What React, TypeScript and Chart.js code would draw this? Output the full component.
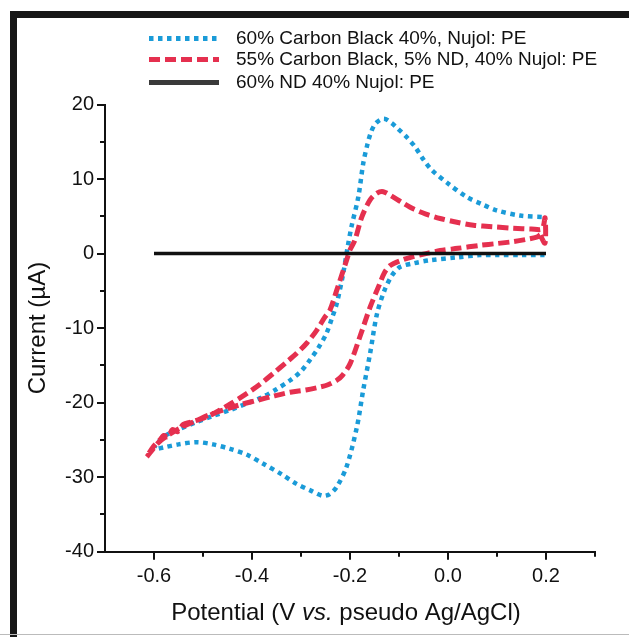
import React, { useEffect, useRef } from "react";
import { Chart, registerables } from "chart.js";

Chart.register(...registerables);

// ---------- data ----------
const seriesLabels = [
  "60% Carbon Black 40%, Nujol: PE",
  "55% Carbon Black, 5% ND, 40% Nujol: PE",
  "60% ND 40% Nujol: PE",
];

// 60% Carbon Black (reduction sweep from +0.2 V, then oxidation sweep back)
const blueX = [
  0.197, 0.15, 0.1, 0.065, 0.02, -0.037, -0.07, -0.098, -0.115, -0.13, -0.145, -0.159, -0.173, -0.186,
  -0.207, -0.227, -0.242, -0.256, -0.28, -0.309, -0.34, -0.377, -0.41, -0.445, -0.48, -0.513, -0.55,
  -0.58, -0.6,
  -0.581, -0.55, -0.513, -0.48, -0.445, -0.41, -0.377, -0.35, -0.322, -0.3, -0.282, -0.265, -0.248,
  -0.237, -0.227, -0.214, -0.205, -0.197, -0.183, -0.173, -0.165, -0.157, -0.147, -0.131, -0.115,
  -0.103, -0.084, -0.067, -0.05, -0.033, 0.0, 0.038, 0.07, 0.099, 0.147, 0.197,
];
const blueY = [
  -0.2, -0.2, -0.2, -0.2, -0.5, -0.9, -1.3, -1.8, -3.0, -5.0, -8.1, -13.4, -18.3, -23.3,
  -28.6, -31.3, -32.3, -32.5, -31.8, -30.9, -29.6, -28.2, -27.0, -26.2, -25.6, -25.3, -25.6,
  -26.0, -26.2,
  -24.6, -23.6, -22.6, -21.8, -21.0, -20.1, -19.2, -18.2, -17.0, -15.8, -14.3, -12.7, -10.7,
  -8.7, -6.7, -2.7, 0.8, 3.6, 7.6, 12.1, 14.5, 16.3, 17.5, 18.1, 17.5,
  16.8, 15.6, 14.3, 12.6, 11.2, 9.4, 7.6, 6.6, 5.8, 5.1, 4.9,
];

// 55% Carbon Black, 5% ND
const redX = [
  0.188, 0.181, 0.16, 0.133, 0.1, 0.065, 0.02, -0.016, -0.045, -0.071, -0.095, -0.118, -0.13, -0.139,
  -0.159, -0.18, -0.2, -0.215, -0.227, -0.245, -0.261, -0.29, -0.322, -0.355, -0.39, -0.425, -0.459,
  -0.49, -0.513, -0.54, -0.567, -0.59, -0.615,
  -0.6, -0.588, -0.58, -0.572, -0.562, -0.552, -0.54, -0.525, -0.505, -0.479, -0.445, -0.411, -0.385,
  -0.357, -0.33, -0.309, -0.288, -0.268, -0.252, -0.241, -0.227, -0.207, -0.2, -0.19, -0.176, -0.159,
  -0.145, -0.132, -0.115, -0.095, -0.071, -0.045, -0.016, 0.018, 0.052, 0.09, 0.133, 0.17, 0.192,
  0.198, 0.198, 0.188,
];
const redY = [
  2.5, 2.2, 1.9, 1.6, 1.35, 1.1, 0.7, 0.4, 0.0, -0.4, -0.9, -1.6, -2.6, -4.0,
  -7.2, -11.2, -14.8, -16.3, -17.0, -17.6, -17.9, -18.3, -18.6, -19.1, -19.7, -20.3, -21.0,
  -21.7, -22.4, -23.2, -24.2, -25.3, -27.3,
  -25.8, -25.0, -24.4, -24.6, -23.6, -23.9, -22.9, -22.6, -22.2, -21.5, -20.2, -18.8, -17.6,
  -16.1, -14.6, -13.4, -12.0, -10.3, -8.6, -7.6, -4.9, -0.9, 0.5, 1.8, 4.9, 7.2,
  8.1, 8.3, 7.7, 6.9, 6.0, 5.3, 4.7, 4.2, 3.8, 3.6, 3.4, 3.3, 3.3,
  4.8, 1.4, 2.5,
];

// 60% ND
const blackX = [-0.6, 0.2];
const blackY = [0, 0];

const xTicks = [-0.6, -0.4, -0.2, 0.0, 0.2];
const xTickLabels = ["-0.6", "-0.4", "-0.2", "0.0", "0.2"];
const xMinorTicks = [-0.5, -0.3, -0.1, 0.1, 0.3];
const yTicks = [20, 10, 0, -10, -20, -30, -40];
const yTickLabels = ["20", "10", "0", "-10", "-20", "-30", "-40"];
const yMinorTicks = [15, 5, -5, -15, -25, -35];
const xTitleParts = ["Potential (V ", "vs.", " pseudo Ag/AgCl)"];
const yTitle = "Current (µA)";

// ---------- styles ----------
const FONT = "'Liberation Sans', Arial, Helvetica, sans-serif";
const INK = "#111111";
const BLUE = "#1a9bd8";
const RED = "#e5304f";

const toPoints = (xs: number[], ys: number[]) => xs.map((x, i) => ({ x, y: ys[i] }));

const decorPlugin = {
  id: "decor",
  afterDraw(chart: any) {
    const ctx: CanvasRenderingContext2D = chart.ctx;
    const xs = chart.scales.x;
    const ys = chart.scales.y;
    const { left, right, bottom } = chart.chartArea;
    ctx.save();
    // minor ticks
    ctx.strokeStyle = INK;
    ctx.lineWidth = 2;
    ctx.beginPath();
    xMinorTicks.forEach((v) => {
      const p = Math.round(xs.getPixelForValue(v));
      ctx.moveTo(p, bottom);
      ctx.lineTo(p, bottom + 5);
    });
    yMinorTicks.forEach((v) => {
      const p = Math.round(ys.getPixelForValue(v));
      ctx.moveTo(left, p);
      ctx.lineTo(left - 5, p);
    });
    ctx.stroke();

    // x axis title with italic "vs."
    const fonts = [`24px ${FONT}`, `italic 24px ${FONT}`, `24px ${FONT}`];
    let total = 0;
    const widths = xTitleParts.map((t, i) => {
      ctx.font = fonts[i];
      const w = ctx.measureText(t).width;
      total += w;
      return w;
    });
    let tx = (left + right) / 2 - 4 - total / 2;
    ctx.fillStyle = INK;
    ctx.textAlign = "left";
    ctx.textBaseline = "alphabetic";
    xTitleParts.forEach((t, i) => {
      ctx.font = fonts[i];
      ctx.fillText(t, tx, 620);
      tx += widths[i];
    });

    // legend
    const rowsY = [38.5, 59.5, 82.5];
    const legendColors = [BLUE, RED, "#3a3a3a"];
    chart.data.datasets.forEach((ds: any, i: number) => {
      const y = rowsY[i];
      ctx.beginPath();
      ctx.setLineDash(ds.borderDash || []);
      ctx.strokeStyle = legendColors[i];
      ctx.lineWidth = 5;
      ctx.lineCap = "butt";
      ctx.moveTo(149, y);
      ctx.lineTo(219, y);
      ctx.stroke();
      ctx.setLineDash([]);
      ctx.font = `19px ${FONT}`;
      ctx.fillStyle = INK;
      ctx.textBaseline = "middle";
      ctx.fillText(seriesLabels[i], 236, y);
    });
    ctx.restore();
  },
};

export default function App() {
  const ref = useRef<HTMLCanvasElement | null>(null);

  useEffect(() => {
    if (!ref.current) return;
    const chart = new Chart(ref.current, {
      type: "scatter",
      data: {
        datasets: [
          {
            label: seriesLabels[0],
            data: toPoints(blueX, blueY),
            showLine: true,
            borderColor: BLUE,
            borderWidth: 4.5,
            borderDash: [4.5, 4.5],
            pointRadius: 0,
            tension: 0.3,
            order: 3,
          },
          {
            label: seriesLabels[1],
            data: toPoints(redX, redY),
            showLine: true,
            borderColor: RED,
            borderWidth: 5,
            borderDash: [11, 5],
            pointRadius: 0,
            tension: 0.3,
            order: 2,
          },
          {
            label: seriesLabels[2],
            data: toPoints(blackX, blackY),
            showLine: true,
            borderColor: INK,
            borderWidth: 3.5,
            pointRadius: 0,
            order: 1,
          },
        ],
      },
      options: {
        animation: false,
        responsive: false,
        maintainAspectRatio: false,
        layout: { padding: { left: 0, top: 104.5, right: 34, bottom: 0 } },
        plugins: {
          legend: { display: false },
          tooltip: { enabled: false },
          title: { display: false },
        },
        scales: {
          x: {
            type: "linear",
            min: -0.7,
            max: 0.3,
            afterBuildTicks: (scale: any) => {
              scale.ticks = xTicks.map((v) => ({ value: v }));
            },
            afterFit: (scale: any) => {
              scale.height = 637 - 551.7;
            },
            ticks: {
              callback: (_v: any, i: number) => xTickLabels[i],
              font: { family: FONT, size: 20 },
              color: INK,
              padding: 5,
              maxRotation: 0,
              autoSkip: false,
            },
            grid: { drawOnChartArea: false, drawTicks: true, tickLength: 8, color: INK, lineWidth: 2 },
            border: { display: true, color: INK, width: 2 },
            title: { display: false },
          },
          y: {
            type: "linear",
            min: -40,
            max: 20,
            afterBuildTicks: (scale: any) => {
              scale.ticks = yTicks.map((v) => ({ value: v }));
            },
            afterFit: (scale: any) => {
              scale.width = 105;
            },
            ticks: {
              callback: (_v: any, i: number) => yTickLabels[i],
              font: { family: FONT, size: 20 },
              color: INK,
              padding: 3,
              autoSkip: false,
            },
            grid: { drawOnChartArea: false, drawTicks: true, tickLength: 8, color: INK, lineWidth: 2 },
            border: { display: true, color: INK, width: 2 },
            title: {
              display: true,
              text: yTitle,
              font: { family: FONT, size: 24 },
              color: INK,
              padding: { top: 24, bottom: 0 },
            },
          },
        },
      },
      plugins: [decorPlugin],
    } as any);
    return () => chart.destroy();
  }, []);

  return (
    <div
      style={{
        position: "fixed",
        left: 0,
        top: 0,
        width: 629,
        height: 637,
        background: "#ffffff",
        overflow: "hidden",
      }}
    >
      <div
        style={{
          position: "absolute",
          left: 10,
          top: 11,
          width: 660,
          height: 660,
          borderLeft: "7px solid #161616",
          borderTop: "7px solid #161616",
          boxSizing: "border-box",
        }}
      />
      <div style={{ position: "absolute", left: 0, top: 634, width: 629, height: 1, background: "#bbbbbb" }} />
      <canvas ref={ref} width={629} height={637} style={{ position: "absolute", left: 0, top: 0 }} />
    </div>
  );
}
